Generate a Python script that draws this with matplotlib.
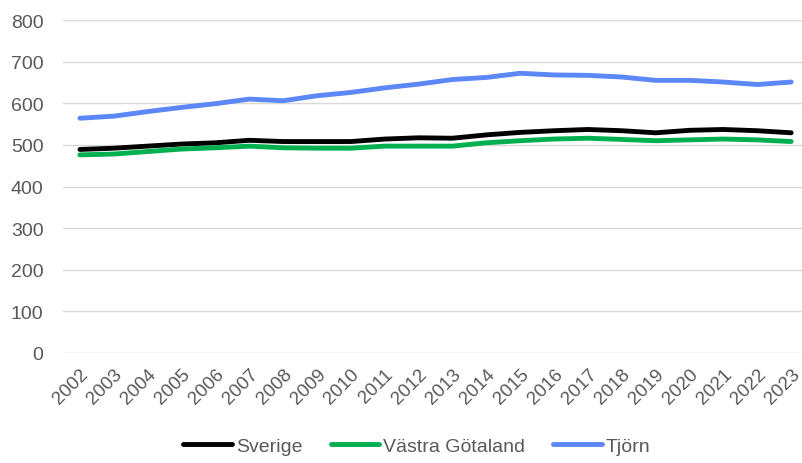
import matplotlib.pyplot as plt

plt.rcParams['font.family'] = ['Liberation Sans', 'DejaVu Sans']

years = list(range(2002, 2024))
sverige = [489, 492, 497, 502, 505, 511, 508, 508, 508, 514, 517, 516, 524, 530, 534,
           537, 534, 529, 535, 537, 534, 529]
vastra_gotaland = [476, 478, 484, 490, 493, 497, 493, 492, 492, 497, 497, 497, 505, 510, 514,
                   516, 513, 510, 512, 514, 512, 508]
tjorn = [564, 569, 580, 590, 599, 610, 606, 618, 626, 637, 646, 657, 662, 672, 668,
         667, 663, 655, 655, 651, 645, 651]

grey = '#595959'

fig = plt.figure(figsize=(8.02, 4.64), dpi=100)
ax = fig.add_axes([63/802, 1 - 354/464, 1 - 63/802, (354 - 21)/464])

ax.plot(years, sverige, color='black', lw=3.5, solid_capstyle='round', label='Sverige')
ax.plot(years, vastra_gotaland, color='#00B050', lw=3.5, solid_capstyle='round', label='Västra Götaland')
ax.plot(years, tjorn, color='#5B87F7', lw=3.5, solid_capstyle='round', label='Tjörn')

ax.set_ylim(0, 800)
ax.set_yticks(range(0, 801, 100))
ax.set_xlim(2001.5, 2023.32)
ax.set_xticks(years)
ax.set_xticklabels([str(y) for y in years], rotation=45, ha='right', va='top',
                   rotation_mode='anchor')
ax.tick_params(axis='both', length=0, labelsize=14, colors=grey)
ax.tick_params(axis='x', pad=9, labelsize=13.5)
ax.tick_params(axis='y', pad=14)
ax.grid(axis='y', color='#d9d9d9', lw=1)
ax.set_axisbelow(True)
for s in ax.spines.values():
    s.set_visible(False)

ax.legend(loc='center', bbox_to_anchor=(0.479, -0.279), ncol=3, frameon=False,
          fontsize=14, labelcolor=grey, handlelength=2.5, handletextpad=0.2,
          columnspacing=1.45)

fig.savefig('out.png', dpi=100)
